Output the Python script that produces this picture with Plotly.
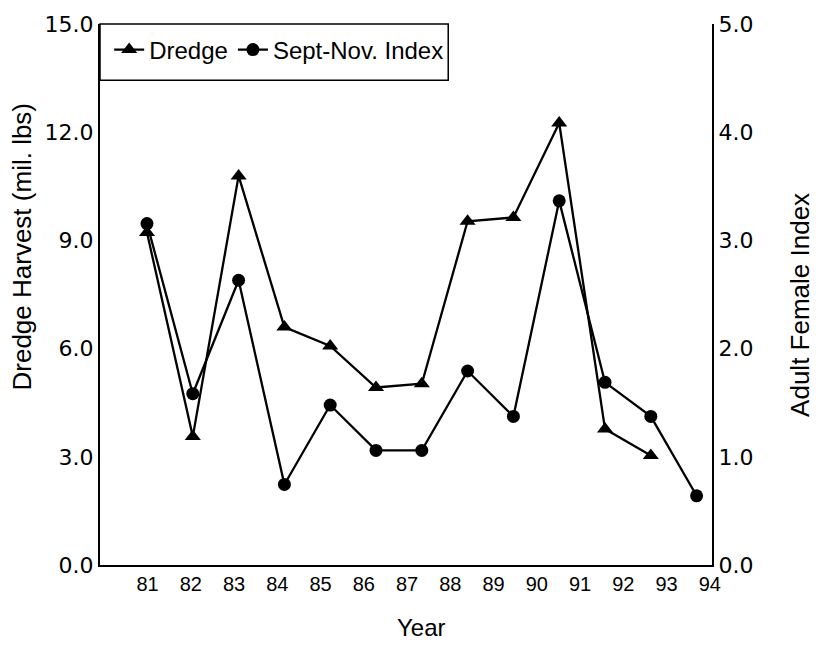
import plotly.graph_objects as go

years = [81, 82, 83, 84, 85, 86, 87, 88, 89, 90, 91, 92, 93]
dredge_years = [81, 82, 83, 84, 85, 86, 87, 88, 89, 90, 91, 92]
dredge = [9.4, 4.0, 10.9, 6.9, 6.4, 5.3, 5.4, 9.7, 9.8, 12.3, 4.2, 3.5]
index_vals = [3.2, 1.7, 2.7, 0.9, 1.6, 1.2, 1.2, 1.9, 1.5, 3.4, 1.8, 1.5, 0.8]
x_ticks = list(range(81, 95))
left_ticks = [0, 3, 6, 9, 12, 15]
right_ticks = [0, 1, 2, 3, 4, 5]

fig = go.Figure()
# empty traces so that the labelled axes (x/y and x/y2) are created
fig.add_trace(go.Scatter(x=[], y=[], showlegend=False, hoverinfo="skip",
                         xaxis="x", yaxis="y"))
fig.add_trace(go.Scatter(x=[], y=[], showlegend=False, hoverinfo="skip",
                         xaxis="x", yaxis="y2"))
fig.add_trace(go.Scatter(
    x=dredge_years, y=dredge, name="Dredge", mode="lines+markers",
    line=dict(color="black", width=2.3),
    marker=dict(symbol="triangle-up", size=14, color="black"),
    xaxis="x2", yaxis="y3"))
fig.add_trace(go.Scatter(
    x=years, y=index_vals, name="Sept-Nov. Index", mode="lines+markers",
    line=dict(color="black", width=2.3),
    marker=dict(symbol="circle", size=13, color="black"),
    xaxis="x2", yaxis="y4"))

title_font = dict(size=26, family="Liberation Sans, Arial, sans-serif", color="black")

fig.update_layout(
    width=820, height=667,
    margin=dict(l=100, r=108, t=18, b=102),
    paper_bgcolor="white", plot_bgcolor="rgba(0,0,0,0)",
    font=dict(family="Liberation Sans, Arial, sans-serif", color="black"),
    showlegend=True,
    legend=dict(orientation="h", x=0.015, xanchor="left", y=0.952, yanchor="middle",
                bgcolor="rgba(0,0,0,0)", borderwidth=0,
                font=dict(size=24, family="Liberation Sans, Arial, sans-serif")),
    xaxis=dict(range=[79.9, 94.05], domain=[0, 1], anchor="y",
               tickvals=x_ticks, ticktext=[str(v) for v in x_ticks],
               showgrid=False, zeroline=False, showline=True, linecolor="black", linewidth=2,
               ticks="", tickfont=dict(size=20), ticklabelstandoff=0),
    yaxis=dict(range=[0, 15], domain=[0, 1], anchor="x", tickvals=left_ticks, tickformat=".1f",
               showgrid=False, zeroline=False, showline=True, linecolor="black", linewidth=2,
               ticks="", tickfont=dict(size=22, family="DejaVu Sans")),
    yaxis2=dict(range=[0, 5], tickvals=right_ticks, tickformat=".1f", overlaying="y",
                side="right", anchor="x",
                showgrid=False, zeroline=False, showline=True, linecolor="black", linewidth=2,
                ticks="", tickfont=dict(size=22, family="DejaVu Sans")),
    # plotting scales of the data marks (as drawn in the original figure)
    xaxis2=dict(range=[79.974, 93.336], domain=[0, 1], anchor="y3", visible=False,
                showgrid=False, zeroline=False),
    yaxis3=dict(range=[0.602, 14.921], domain=[0, 1], anchor="x2", visible=False,
                showgrid=False, zeroline=False),
    yaxis4=dict(range=[0.190, 4.959], overlaying="y3", anchor="x2", visible=False,
                showgrid=False, zeroline=False),
    shapes=[dict(type="rect", xref="paper", yref="paper", x0=0, x1=0.569, y0=0.896, y1=1,
                 line=dict(color="black", width=1.5))],
    annotations=[
        dict(text="Dredge Harvest (mil. lbs)", xref="paper", yref="paper",
             x=-0.1275, y=0.5887, textangle=-90, showarrow=False,
             xanchor="center", yanchor="middle", font=title_font),
        dict(text="Adult Female Index", xref="paper", yref="paper",
             x=1.1438, y=0.4808, textangle=-90, showarrow=False,
             xanchor="center", yanchor="middle", font=title_font),
        dict(text="Year", xref="paper", yref="paper",
             x=0.526, y=-0.1152, showarrow=False,
             xanchor="center", yanchor="middle", font=dict(size=24, color="black",
                                                          family="Liberation Sans, Arial, sans-serif")),
    ],
)

fig.write_html("out.html")
